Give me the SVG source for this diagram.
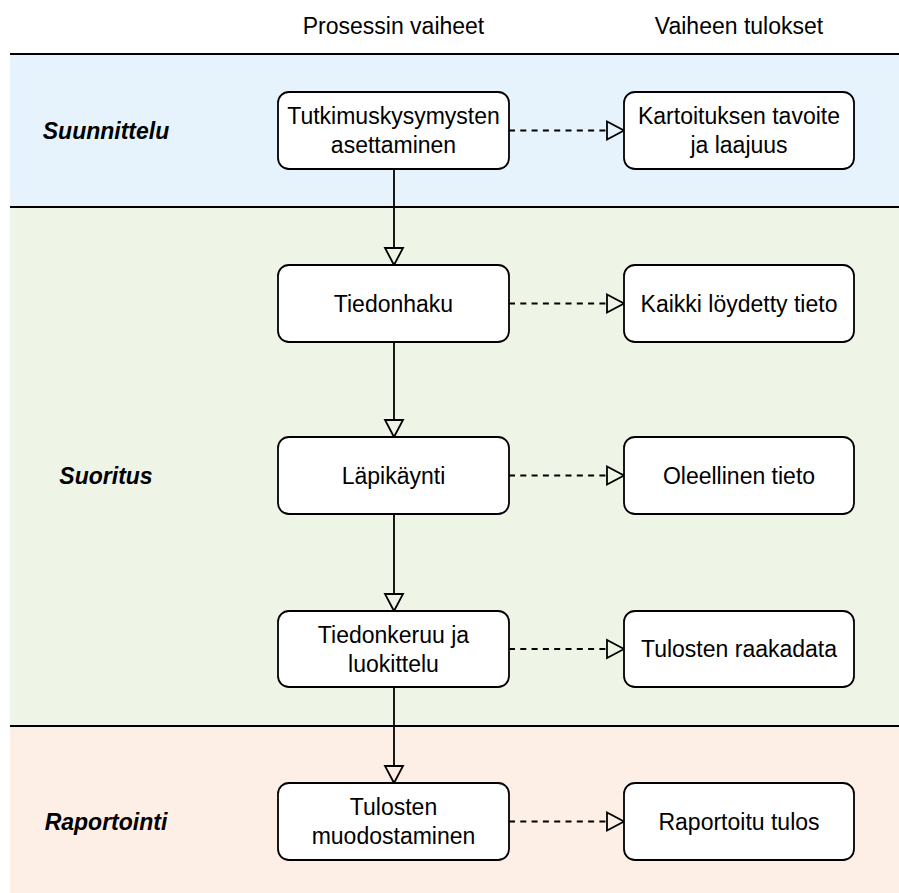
<svg xmlns="http://www.w3.org/2000/svg" width="899" height="893" viewBox="0 0 899 893">
<style>
.node{fill:#ffffff;stroke:#000000;stroke-width:1.8}
.t{font-family:"Liberation Sans",Arial,sans-serif;font-size:23px;fill:#000000;text-anchor:middle}
.lab{font-family:"Liberation Sans",Arial,sans-serif;font-size:23px;font-weight:bold;font-style:italic;fill:#000000;text-anchor:middle}
.lane{stroke:#000000;stroke-width:2}
.solid{stroke:#000000;stroke-width:1.8;fill:none}
.dash{stroke:#000000;stroke-width:1.8;fill:none;stroke-dasharray:6 5.3}
.head{fill:none;stroke:#000000;stroke-width:1.8;stroke-linejoin:miter}
</style>
<rect x="0" y="0" width="899" height="893" fill="#ffffff"/>
<g id="lanes">
<rect x="10" y="54" width="889" height="153" fill="#E6F3FC"/>
<rect x="10" y="207" width="889" height="519" fill="#EEF4E6"/>
<rect x="10" y="726" width="889" height="167" fill="#FDEEE6"/>
<line class="lane" x1="10" y1="54" x2="899" y2="54"/>
<line class="lane" x1="10" y1="207" x2="899" y2="207"/>
<line class="lane" x1="10" y1="726" x2="899" y2="726"/>
</g>
<g id="headers">
<text class="t" x="393.5" y="34">Prosessin vaiheet</text>
<text class="t" x="739" y="34">Vaiheen tulokset</text>
</g>
<g id="lane-labels">
<text class="lab" x="106" y="139">Suunnittelu</text>
<text class="lab" x="106" y="484">Suoritus</text>
<text class="lab" x="106" y="830">Raportointi</text>
</g>
<g id="connectors">
<line class="solid" x1="394" y1="169" x2="394" y2="248"/>
<polygon class="head" points="385,248 403,248 394,265"/>
<line class="solid" x1="394" y1="342" x2="394" y2="420"/>
<polygon class="head" points="385,420 403,420 394,437"/>
<line class="solid" x1="394" y1="514" x2="394" y2="594"/>
<polygon class="head" points="385,594 403,594 394,611"/>
<line class="solid" x1="394" y1="687" x2="394" y2="766"/>
<polygon class="head" points="385,766 403,766 394,783"/>
<line class="dash" x1="509" y1="130.5" x2="607" y2="130.5"/>
<polygon class="head" points="607,121.5 607,139.5 624,130.5"/>
<line class="dash" x1="509" y1="303.5" x2="607" y2="303.5"/>
<polygon class="head" points="607,294.5 607,312.5 624,303.5"/>
<line class="dash" x1="509" y1="475.5" x2="607" y2="475.5"/>
<polygon class="head" points="607,466.5 607,484.5 624,475.5"/>
<line class="dash" x1="509" y1="649" x2="607" y2="649"/>
<polygon class="head" points="607,640 607,658 624,649"/>
<line class="dash" x1="509" y1="821.5" x2="607" y2="821.5"/>
<polygon class="head" points="607,812.5 607,830.5 624,821.5"/>
</g>
<g id="n1">
<rect class="node" x="278" y="92" width="231" height="77" rx="11"/>
<text class="t" x="393.5" y="124">Tutkimuskysymysten</text>
<text class="t" x="393.5" y="153">asettaminen</text>
</g>
<g id="r1">
<rect class="node" x="624" y="92" width="230" height="77" rx="11"/>
<text class="t" x="739" y="124">Kartoituksen tavoite</text>
<text class="t" x="739" y="153">ja laajuus</text>
</g>
<g id="n2">
<rect class="node" x="278" y="265" width="231" height="77" rx="11"/>
<text class="t" x="393.5" y="311.5">Tiedonhaku</text>
</g>
<g id="r2">
<rect class="node" x="624" y="265" width="230" height="77" rx="11"/>
<text class="t" x="739" y="311.5">Kaikki löydetty tieto</text>
</g>
<g id="n3">
<rect class="node" x="278" y="437" width="231" height="77" rx="11"/>
<text class="t" x="393.5" y="483.5">Läpikäynti</text>
</g>
<g id="r3">
<rect class="node" x="624" y="437" width="230" height="77" rx="11"/>
<text class="t" x="739" y="483.5">Oleellinen tieto</text>
</g>
<g id="n4">
<rect class="node" x="278" y="611" width="231" height="76" rx="11"/>
<text class="t" x="393.5" y="642.5">Tiedonkeruu ja</text>
<text class="t" x="393.5" y="671.5">luokittelu</text>
</g>
<g id="r4">
<rect class="node" x="624" y="611" width="230" height="76" rx="11"/>
<text class="t" x="739" y="657">Tulosten raakadata</text>
</g>
<g id="n5">
<rect class="node" x="278" y="783" width="231" height="77" rx="11"/>
<text class="t" x="393.5" y="815">Tulosten</text>
<text class="t" x="393.5" y="844">muodostaminen</text>
</g>
<g id="r5">
<rect class="node" x="624" y="783" width="230" height="77" rx="11"/>
<text class="t" x="739" y="829.5">Raportoitu tulos</text>
</g>
</svg>
